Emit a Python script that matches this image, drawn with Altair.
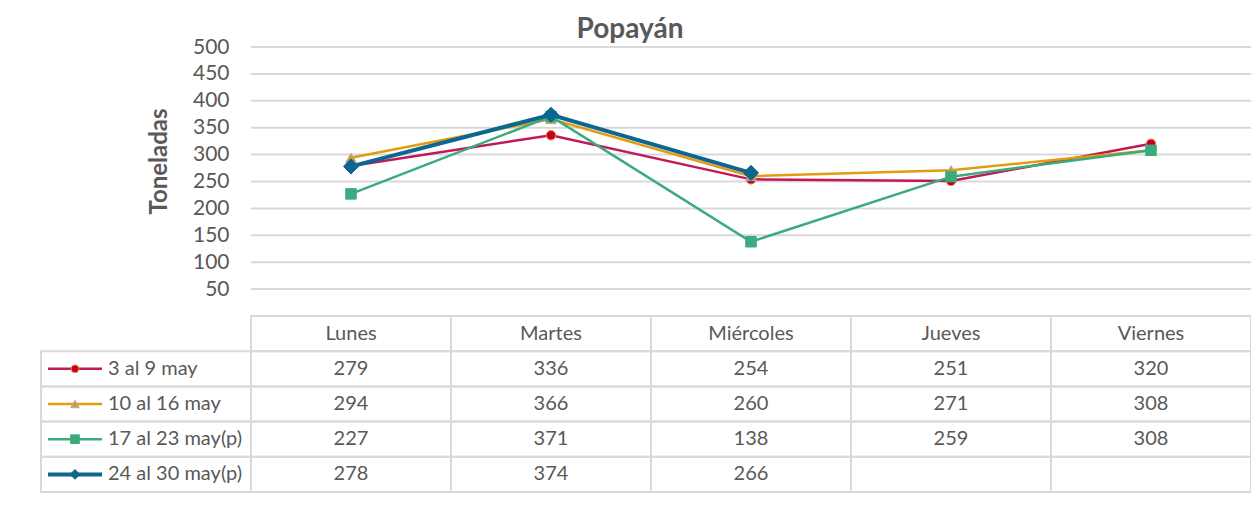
import altair as alt
import pandas as pd

# ---------------- data ----------------
days = ["Lunes", "Martes", "Miércoles", "Jueves", "Viernes"]
series_names = ["3 al 9 may", "10 al 16 may", "17 al 23 may(p)", "24 al 30 may(p)"]
s1 = [279, 336, 254, 251, 320]
s2 = [294, 366, 260, 271, 308]
s3 = [227, 371, 138, 259, 308]
s4 = [278, 374, 266, None, None]
y_ticks = [50, 100, 150, 200, 250, 300, 350, 400, 450, 500]
chart_title = "Popayán"
y_title = "Toneladas"

# ---------------- styles ----------------
FONT = "Lato"
TXT = "#595959"
GRID = "#d9d9d9"
colors = ["#C2185B", "#E49B10", "#3CAB7C", "#0B6690"]
widths = [2.5, 2.5, 2.5, 4]
shapes = ["circle", "triangle-up", "square", "diamond"]
fills = ["#C00020", "#E49B10", "#3CAB7C", "#0B6690"]
strokes = ["#F08A30", "#9DB2C8", "#3CAB7C", "#0B6690"]
sizes = [90, 110, 110, 230]
leg_sizes = [60, 75, 75, 95]

LEG_X0 = -1.05          # left edge of legend column (x units, one unit per day column)
LEG_LINE = (-1.015, -0.745)
LEG_MARK = -0.88
LEG_TEXT = -0.715

xs = alt.Scale(domain=[LEG_X0, 5], nice=False, zero=False)
ys = alt.Scale(domain=[0, 500], range=[269, 0], nice=False, zero=False)
ts = alt.Scale(domain=[0, 5], range=[269, 445], nice=False, zero=False)

yaxis = alt.Axis(values=y_ticks, grid=False, domain=False, ticks=False, tickSize=0,
                 labelFont=FONT, labelFontSize=21, labelColor=TXT, labelPadding=22,
                 offset=-210, title=y_title, titleFont=FONT, titleFontSize=24,
                 titleFontWeight="bold", titleColor=TXT, titleX=-92, titleY=114,
                 titleBaseline="middle")


def X(f):
    return alt.X(f, type="quantitative", scale=xs, axis=None)


def Y():
    return alt.Y("v", type="quantitative", scale=ys, axis=yaxis)


def T(f):
    return alt.Y(f, type="quantitative", scale=ts, axis=None)


# ---------------- plot part ----------------
grid_df = pd.DataFrame({"v": y_ticks, "x0": 0, "x1": 5})
grid = alt.Chart(grid_df).mark_rule(color=GRID, strokeWidth=2).encode(
    x=X("x0"), x2="x1", y=Y())

plot_layers = [grid]
all_series = [s1, s2, s3, s4]
for k, vals in enumerate(all_series):
    df = pd.DataFrame({"x": [i + 0.5 for i in range(len(days))], "v": vals}).dropna()
    plot_layers.append(alt.Chart(df).mark_line(color=colors[k], strokeWidth=widths[k]).encode(
        x=X("x"), y=Y()))
    plot_layers.append(alt.Chart(df).mark_point(
        shape=shapes[k], size=sizes[k], filled=True, fill=fills[k], stroke=strokes[k],
        strokeWidth=1, opacity=1).encode(x=X("x"), y=Y()))

# ---------------- data table ----------------
cells = []
for i in range(len(days)):
    cells.append({"x0": i, "x1": i + 1, "r0": 0, "r1": 1})
for r in range(1, len(series_names) + 1):
    cells.append({"x0": LEG_X0, "x1": 0, "r0": r, "r1": r + 1})
    for i in range(len(days)):
        cells.append({"x0": i, "x1": i + 1, "r0": r, "r1": r + 1})
cells_df = pd.DataFrame(cells)
rects = alt.Chart(cells_df).mark_rect(fillOpacity=0, stroke=GRID, strokeWidth=2).encode(
    x=X("x0"), x2="x1", y=T("r0"), y2="r1")

txt_rows = []
for i, d in enumerate(days):
    txt_rows.append({"x": i + 0.5, "r": 0.5, "t": d})
for r, vals in enumerate(all_series, start=1):
    for i, v in enumerate(vals):
        if v is not None:
            txt_rows.append({"x": i + 0.5, "r": r + 0.5, "t": str(v)})
txt_df = pd.DataFrame(txt_rows)
texts = alt.Chart(txt_df).mark_text(font=FONT, fontSize=20, color=TXT, align="center",
                                    baseline="middle").encode(x=X("x"), y=T("r"), text="t:N")

leg_df = pd.DataFrame({"x": LEG_TEXT, "r": [r + 1.5 for r in range(len(series_names))],
                       "t": series_names})
leg_texts = alt.Chart(leg_df).mark_text(font=FONT, fontSize=20, color=TXT, align="left",
                                        baseline="middle").encode(x=X("x"), y=T("r"), text="t:N")

table_layers = [rects, texts, leg_texts]
for k in range(len(series_names)):
    ldf = pd.DataFrame({"x0": [LEG_LINE[0]], "x1": [LEG_LINE[1]], "xm": [LEG_MARK], "r": [k + 1.5]})
    table_layers.append(alt.Chart(ldf).mark_rule(color=colors[k], strokeWidth=widths[k]).encode(
        x=X("x0"), x2="x1", y=T("r")))
    table_layers.append(alt.Chart(ldf).mark_point(
        shape=shapes[k], size=leg_sizes[k], filled=True, fill=fills[k], stroke=strokes[k],
        strokeWidth=1, opacity=1).encode(x=X("xm"), y=T("r")))

chart = alt.layer(alt.layer(*plot_layers), alt.layer(*table_layers)).resolve_scale(
    y="independent"
).properties(
    width=1210, height=445,
    title=alt.Title(chart_title, font=FONT, fontSize=28, fontWeight="bold", color=TXT,
                    anchor="middle", dx=-16, dy=16, offset=8),
    padding={"left": 33, "top": 39, "right": 0, "bottom": 10},
    autosize=alt.AutoSizeParams(type="none"),
).configure_view(strokeWidth=0)

chart.save("out.html", embed_options={"renderer": "svg", "actions": False})
